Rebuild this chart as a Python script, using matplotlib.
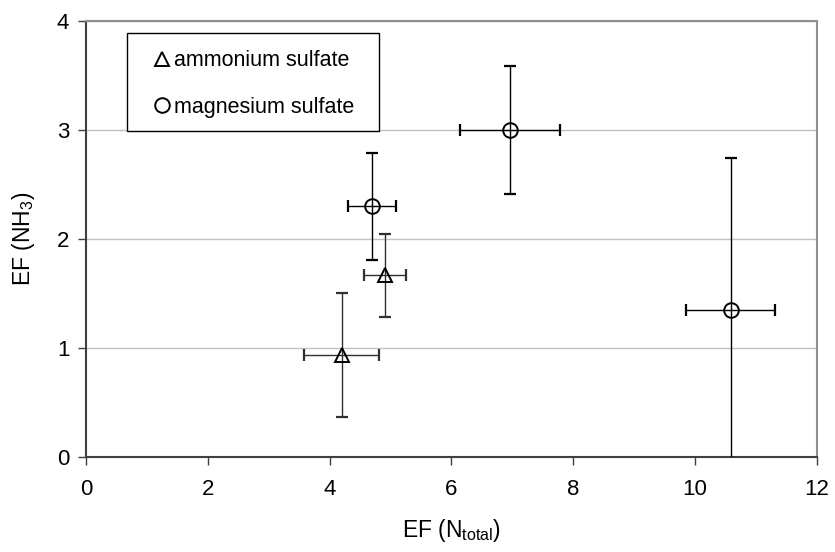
import matplotlib
matplotlib.use("Agg")
import matplotlib.pyplot as plt
from matplotlib.patches import Rectangle

plt.rcParams['font.family'] = ['Liberation Sans', 'DejaVu Sans']

# data
amm_x = [4.20, 4.91]
amm_y = [0.94, 1.67]
amm_xerr = [0.62, 0.34]
amm_yerr = [0.57, 0.38]

mag_x = [4.70, 6.97, 10.59]
mag_y = [2.30, 3.00, 1.35]
mag_xerr = [0.39, 0.82, 0.73]
mag_yerr = [0.49, 0.59, 1.39]

x_ticks = [0, 2, 4, 6, 8, 10, 12]
y_ticks = [0, 1, 2, 3, 4]

fig = plt.figure(figsize=(8.35, 5.52), dpi=100)
ax = fig.add_axes([0.103, 0.1716, 0.875, 0.7904])

ax.errorbar(amm_x, amm_y, xerr=amm_xerr, yerr=amm_yerr, fmt='^', ms=12.5,
            mfc='none', mec='black', mew=1.6, ecolor='#303030', elinewidth=1.0,
            capsize=4.3, capthick=0.9, label='ammonium sulfate', zorder=3)
ax.errorbar(mag_x, mag_y, xerr=mag_xerr, yerr=mag_yerr, fmt='o', ms=11.5,
            mfc='none', mec='black', mew=1.6, ecolor='black', elinewidth=1.0,
            capsize=4.3, capthick=0.9, label='magnesium sulfate', zorder=3)

ax.set_xlim(0, 12)
ax.set_ylim(0, 4)
ax.set_xticks(x_ticks)
ax.set_yticks(y_ticks)
ax.tick_params(axis='both', direction='out', length=6, width=1, color='#404040',
               labelsize=16)
ax.tick_params(axis='x', pad=10)
ax.tick_params(axis='y', pad=6)
ax.yaxis.grid(True, color='#c0c0c0', lw=1)
ax.set_axisbelow(True)
for s in ['top', 'right']:
    ax.spines[s].set_color('#909090')
    ax.spines[s].set_linewidth(1.5)
for s in ['left', 'bottom']:
    ax.spines[s].set_color('#404040')
    ax.spines[s].set_linewidth(1.5)

ax.set_xlabel('EF (N$_{\\mathregular{total}}$)', fontsize=16.5, labelpad=12)
ax.set_ylabel('EF (NH$_{\\mathregular{3}}$)', fontsize=16.5, labelpad=14)

# legend frame
ax.add_patch(Rectangle((0.0561, 0.748), 0.3447, 0.2246, transform=ax.transAxes,
                       facecolor='white', edgecolor='black', lw=1.0, zorder=4))
handles, labels = ax.get_legend_handles_labels()
handles = [h[0] for h in handles]
for h in handles:
    h.set_markersize(10.5)
    h.set_markeredgewidth(1.4)
leg = ax.legend(handles, labels, loc='center left', bbox_to_anchor=(0.094, 0.8556),
                fontsize=15.5, frameon=False, borderpad=0, labelspacing=1.2,
                handlelength=0.7, handletextpad=0.2, borderaxespad=0)
leg.set_zorder(5)

fig.savefig('out.png', dpi=100)
